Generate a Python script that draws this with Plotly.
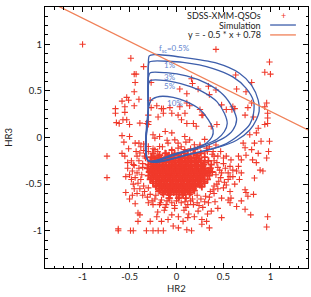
import plotly.graph_objects as go

# ---------------- data ----------------
qso_upper_left = [(-1.0, 1.0), (-0.486, 0.85), (-0.35, 0.76), (-0.45, 0.68), (-0.43, 0.68), (-0.44, 0.59),
                  (-0.45, 0.49), (-0.53, 0.43), (-0.58, 0.39), (-0.51, 0.40), (-0.40, 0.41), (-0.45, 0.34),
                  (-0.65, 0.31), (-0.55, 0.33), (-0.27, 0.59), (-0.16, 0.31)]
qso_mid_left = [(-0.65, 0.26), (-0.55, 0.27), (-0.64, 0.16), (-0.61, 0.15), (-0.57, 0.19), (-0.53, 0.19),
                (-0.50, 0.14), (-0.58, 0.02), (-0.56, -0.05), (-0.51, -0.12), (-0.58, -0.17), (-0.74, -0.20),
                (-0.52, -0.27), (-0.46, -0.29), (-0.47, -0.36), (-0.44, -0.06), (-0.40, -0.06), (-0.35, -0.07),
                (-0.50, 0.01), (-0.32, 0.15), (-0.30, 0.24)]
qso_lower_left = [(-0.74, -0.43), (-0.54, -0.42), (-0.46, -0.50), (-0.54, -0.59), (-0.50, -0.66), (-0.62, -0.98),
                  (-0.62, -1.0), (-0.49, -1.0), (-0.46, -1.0), (-0.41, -0.81), (-0.41, -0.90), (-0.44, -0.71)]
qso_upper_right = [(0.42, 0.945), (0.99, 0.81), (0.94, 0.70), (1.0, 0.68), (0.63, 0.67), (0.80, 0.59),
                   (0.16, 0.63), (0.17, 0.58), (0.34, 0.55), (0.035, 0.52), (0.23, 0.52), (0.42, 0.51),
                   (0.74, 0.49), (0.11, 0.47), (0.35, 0.46), (0.11, 0.37), (0.14, 0.34), (0.53, 0.30),
                   (0.59, 0.30), (0.80, 0.37), (0.94, 0.33), (0.96, 0.37), (0.76, 0.32), (0.64, 0.52)]
qso_middle = [(-0.39, 0.154), (-0.30, 0.17), (-0.30, 0.14), (-0.196, 0.22), (-0.14, 0.26), (-0.05, 0.26),
              (0.017, 0.24), (0.053, 0.19), (0.11, 0.15), (0.18, 0.15), (0.21, 0.12), (0.27, 0.24),
              (0.37, 0.12), (0.43, 0.14), (-0.25, 0.03), (-0.23, -0.007), (-0.18, 0.01), (-0.12, 0.065),
              (-0.05, 0.05), (-0.018, -0.025), (0.017, -0.06), (0.088, 0.01), (0.14, -0.025), (0.19, -0.078),
              (0.25, -0.096), (0.32, -0.114), (-0.30, -0.096), (-0.23, -0.13), (-0.18, -0.096), (-0.09, -0.06),
              (-0.05, -0.13), (0.017, -0.114), (0.088, -0.13), (0.12, -0.185), (0.19, -0.167), (0.30, -0.167),
              (0.39, -0.15), (0.44, -0.20), (-0.39, -0.167), (-0.34, -0.20), (-0.23, -0.20), (-0.16, -0.22),
              (-0.11, -0.167), (-0.28, 0.40), (-0.27, 0.32), (-0.21, 0.34), (-0.14, 0.31), (-0.07, 0.32),
              (0.035, 0.33), (0.09, 0.26), (0.25, 0.30), (0.28, 0.24), (0.48, 0.35), (0.60, 0.33), (0.62, 0.31)]
qso_mid_right = [(0.73, 0.24), (0.82, 0.22), (0.97, 0.26), (0.97, 0.21), (0.97, 0.15), (0.94, 0.14),
                 (0.87, 0.10), (0.78, 0.03), (0.85, 0.05), (0.90, -0.04), (0.99, -0.04), (0.71, -0.06),
                 (0.73, -0.11), (0.83, -0.06), (0.80, -0.13), (0.87, -0.17), (0.74, -0.19), (0.66, -0.20),
                 (0.58, -0.24), (0.69, -0.24), (0.81, -0.24), (0.85, -0.27), (0.57, -0.31), (0.66, -0.31),
                 (0.64, -0.36), (0.69, -0.38), (0.55, -0.38), (0.89, -0.35), (0.92, -0.36), (0.96, -0.22),
                 (0.98, -0.15)]
qso_lower_right = [(0.57, -0.42), (0.60, -0.42), (0.67, -0.45), (0.83, -0.435), (0.53, -0.51), (0.57, -0.58),
                   (0.55, -0.67), (0.58, -0.65), (0.57, -0.70), (0.73, -0.56), (0.74, -0.59), (0.76, -0.63),
                   (0.82, -0.61), (0.69, -0.68), (0.64, -0.74), (0.73, -0.77), (0.79, -0.83), (0.97, -0.85),
                   (0.96, -0.96)]
qso_bottom = [(-0.41, -0.49), (-0.30, -0.54), (-0.28, -0.61), (-0.195, -0.58), (-0.16, -0.67), (-0.11, -0.72),
              (-0.07, -0.65), (-0.02, -0.76), (-0.39, -0.83), (-0.28, -0.90), (-0.21, -0.85), (-0.16, -0.90),
              (-0.09, -0.88), (-0.05, -0.83), (0.02, -0.85), (0.07, -0.90), (0.12, -0.86), (0.19, -0.85),
              (0.23, -0.79), (0.27, -0.88), (0.32, -0.90), (0.37, -0.79), (0.41, -0.69), (0.44, -0.76),
              (0.48, -0.65), (-0.32, -1.0), (-0.25, -1.0), (-0.195, -1.0), (-0.14, -1.0), (-0.035, -0.95),
              (0.02, -0.97), (0.11, -0.99), (0.16, -1.0), (0.27, -0.93), (0.35, -0.97), (0.48, -0.86),
              (0.50, -0.54), (-0.25, -0.72), (-0.13, -0.78), (0.0, -0.68), (0.08, -0.78), (0.15, -0.68),
              (0.28, -0.75), (0.33, -0.82), (0.22, -0.62), (0.40, -0.60), (0.44, -0.55), (-0.20, -0.80),
              (0.13, -0.82)]
qso_fringe = [(-0.40, -0.25), (-0.36, -0.32), (-0.42, -0.38), (-0.38, -0.45), (-0.35, -0.52), (-0.45, -0.30),
              (-0.33, -0.22), (-0.37, -0.40), (-0.34, -0.58), (-0.31, -0.64), (-0.26, -0.68), (-0.22, -0.62),
              (-0.45, -0.55), (-0.50, -0.40), (-0.52, -0.33), (-0.48, -0.25), (-0.43, -0.15), (-0.38, -0.10),
              (-0.55, -0.20), (-0.47, -0.62), (0.40, -0.25), (0.44, -0.32), (0.42, -0.40), (0.45, -0.47),
              (0.40, -0.52), (0.36, -0.58), (0.31, -0.63), (0.26, -0.66), (0.22, -0.70), (0.48, -0.38),
              (0.50, -0.28), (0.53, -0.20), (0.47, -0.15), (0.38, -0.18), (0.55, -0.45), (0.34, -0.70),
              (0.18, -0.72), (0.10, -0.75), (0.05, -0.70), (-0.05, -0.70), (-0.12, -0.75), (-0.18, -0.72),
              (0.60, -0.35), (0.62, -0.50), (-0.25, -0.12), (-0.15, -0.10), (-0.05, -0.14), (0.05, -0.10),
              (0.15, -0.12), (0.25, -0.08), (0.35, -0.10), (-0.30, -0.15), (0.10, -0.05), (-0.10, -0.03),
              (0.30, -0.02), (0.42, -0.08),
              (-0.42, -0.20), (-0.36, -0.28), (-0.40, -0.33), (-0.44, -0.43), (-0.39, -0.55), (-0.36, -0.62),
              (-0.30, -0.70), (-0.23, -0.66), (-0.17, -0.70), (-0.10, -0.68), (0.03, -0.64), (0.09, -0.69),
              (0.17, -0.66), (0.24, -0.73), (0.30, -0.69), (0.35, -0.64), (0.39, -0.56), (0.43, -0.50),
              (0.47, -0.43), (0.46, -0.35), (0.43, -0.27), (0.40, -0.20), (0.33, -0.15), (0.20, -0.13),
              (-0.20, -0.15), (-0.35, -0.14), (0.50, -0.22), (0.52, -0.33), (0.51, -0.48), (-0.48, -0.45),
              (-0.42, -0.60), (0.12, -0.72), (-0.02, -0.73), (0.06, -0.62), (-0.08, -0.62)]
# dense core: rows of HR3 with the HR2 values found along them
core_rows_hr3 = [-0.17, -0.21, -0.25, -0.29, -0.33, -0.37, -0.41, -0.45, -0.49, -0.53, -0.57, -0.61, -0.65]
core_rows_hr2 = [
    [-0.25, -0.12, -0.02, 0.08, 0.18, 0.26],
    [-0.27, -0.19, -0.10, -0.03, 0.05, 0.13, 0.21, 0.30],
    [-0.28, -0.22, -0.15, -0.08, -0.01, 0.06, 0.12, 0.19, 0.26, 0.34],
    [-0.30, -0.24, -0.18, -0.11, -0.05, 0.02, 0.08, 0.15, 0.22, 0.29, 0.37],
    [-0.31, -0.25, -0.19, -0.13, -0.07, -0.01, 0.05, 0.11, 0.17, 0.23, 0.30, 0.36],
    [-0.29, -0.23, -0.17, -0.11, -0.05, 0.01, 0.07, 0.13, 0.19, 0.25, 0.31, 0.38],
    [-0.30, -0.24, -0.18, -0.12, -0.06, 0.00, 0.06, 0.12, 0.18, 0.24, 0.30, 0.35],
    [-0.28, -0.22, -0.16, -0.10, -0.04, 0.02, 0.08, 0.14, 0.20, 0.26, 0.33],
    [-0.25, -0.19, -0.13, -0.07, -0.01, 0.05, 0.11, 0.17, 0.23, 0.30],
    [-0.22, -0.16, -0.10, -0.04, 0.02, 0.08, 0.14, 0.20, 0.27],
    [-0.18, -0.12, -0.06, 0.00, 0.06, 0.12, 0.19],
    [-0.14, -0.07, 0.00, 0.07, 0.14],
    [-0.08, 0.02, 0.10],
]
core_offset_rows_hr3 = [-0.19, -0.23, -0.27, -0.31, -0.35, -0.39, -0.43, -0.47, -0.51, -0.55, -0.59]
core_offset_rows_hr2 = [
    [-0.18, -0.08, 0.02, 0.12, 0.22],
    [-0.23, -0.13, -0.05, 0.02, 0.09, 0.16, 0.24],
    [-0.25, -0.18, -0.11, -0.04, 0.03, 0.10, 0.16, 0.23, 0.30],
    [-0.27, -0.21, -0.15, -0.08, -0.02, 0.04, 0.10, 0.16, 0.22, 0.28],
    [-0.27, -0.20, -0.14, -0.08, -0.02, 0.04, 0.10, 0.16, 0.22, 0.28, 0.34],
    [-0.26, -0.20, -0.14, -0.08, -0.02, 0.04, 0.10, 0.16, 0.22, 0.28, 0.33],
    [-0.27, -0.21, -0.15, -0.09, -0.03, 0.03, 0.09, 0.15, 0.21, 0.27],
    [-0.25, -0.19, -0.13, -0.07, -0.01, 0.05, 0.11, 0.17, 0.23, 0.29],
    [-0.22, -0.16, -0.10, -0.04, 0.02, 0.08, 0.14, 0.20, 0.25],
    [-0.18, -0.12, -0.06, 0.00, 0.06, 0.12, 0.18],
    [-0.15, -0.09, -0.03, 0.03, 0.09, 0.15],
]
core_inner_rows_hr3 = [-0.22, -0.26, -0.30, -0.34, -0.38, -0.42, -0.46, -0.50, -0.54, -0.58]
core_inner_rows_hr2 = [
    [-0.16, -0.06, 0.04, 0.15],
    [-0.20, -0.12, -0.04, 0.04, 0.12, 0.20],
    [-0.22, -0.14, -0.07, 0.00, 0.06, 0.13, 0.20, 0.27],
    [-0.22, -0.16, -0.10, -0.04, 0.02, 0.08, 0.14, 0.20, 0.26],
    [-0.21, -0.14, -0.08, -0.02, 0.04, 0.10, 0.16, 0.22, 0.28],
    [-0.21, -0.15, -0.09, -0.03, 0.03, 0.09, 0.15, 0.21, 0.27],
    [-0.19, -0.13, -0.07, -0.01, 0.05, 0.11, 0.17, 0.23],
    [-0.17, -0.11, -0.05, 0.01, 0.07, 0.13, 0.19],
    [-0.13, -0.07, -0.01, 0.05, 0.11, 0.17],
    [-0.09, -0.03, 0.03, 0.09],
]

# simulated tracks (HR2, HR3) for different scattering fractions
sim_labels = ["f<sub>sc</sub>=0.5%", "1%", "3%", "5%", "10%"]
sim_label_hr2 = [-0.21, -0.15, -0.15, -0.15, -0.12]
sim_label_hr3 = [0.96, 0.78, 0.65, 0.55, 0.37]
sim_hr2 = [
    [-0.30, -0.30, -0.30, -0.29, -0.24, 0.07, 0.42, 0.67, 0.80, 0.87, 0.88, 0.85, 0.78, 0.64, 0.43, 0.11, -0.30],
    [-0.30, -0.30, -0.30, -0.29, -0.24, 0.07, 0.39, 0.60, 0.74, 0.82, 0.82, 0.78, 0.67, 0.50, 0.18, -0.30],
    [-0.30, -0.30, -0.30, -0.28, -0.11, 0.106, 0.32, 0.50, 0.60, 0.64, 0.60, 0.50, 0.32, 0.035, -0.30],
    [-0.30, -0.30, -0.30, -0.28, -0.11, 0.106, 0.28, 0.43, 0.51, 0.54, 0.51, 0.43, 0.25, 0.0, -0.30],
    [-0.30, -0.30, -0.27, -0.18, -0.035, 0.106, 0.25, 0.34, 0.39, 0.38, 0.32, 0.18, -0.035, -0.30],
]
sim_hr3 = [
    [-0.25, 0.30, 0.80, 0.875, 0.89, 0.86, 0.80, 0.69, 0.56, 0.40, 0.28, 0.19, 0.08, -0.03, -0.11, -0.185, -0.25],
    [-0.25, 0.30, 0.76, 0.81, 0.82, 0.805, 0.74, 0.65, 0.53, 0.39, 0.26, 0.14, 0.03, -0.08, -0.17, -0.25],
    [-0.25, 0.30, 0.64, 0.695, 0.695, 0.66, 0.58, 0.456, 0.31, 0.19, 0.08, -0.007, -0.086, -0.17, -0.25],
    [-0.25, 0.30, 0.56, 0.61, 0.61, 0.56, 0.49, 0.385, 0.26, 0.15, 0.064, -0.018, -0.096, -0.17, -0.25],
    [-0.25, 0.30, 0.40, 0.44, 0.43, 0.385, 0.30, 0.19, 0.08, 0.01, -0.06, -0.125, -0.18, -0.25],
]

line_slope = -0.5
line_intercept = 0.78
axis_range = [-1.4, 1.4]
tick_vals = [-1, -0.5, 0, 0.5, 1]
tick_text = ["-1", "-0.5", "0", "0.5", "1"]

# ---------------- build ----------------
RED = "#f0392a"
BLUE = "#3d5eab"
LBLUE = "#6486cf"
ORANGE = "#f08058"
FONT = "Lato"

pairs = (qso_upper_left + qso_mid_left + qso_lower_left + qso_upper_right + qso_middle +
         qso_mid_right + qso_lower_right + qso_bottom + qso_fringe)
hr2 = [p[0] for p in pairs]
hr3 = [p[1] for p in pairs]
core_hr2, core_hr3 = [], []
for rows_y, rows_x in ((core_rows_hr3, core_rows_hr2), (core_offset_rows_hr3, core_offset_rows_hr2),
                       (core_inner_rows_hr3, core_inner_rows_hr2)):
    for yv, xs in zip(rows_y, rows_x):
        core_hr2 += xs
        core_hr3 += [yv] * len(xs)

fig = go.Figure()
fig.add_trace(go.Scatter(x=core_hr2, y=core_hr3, mode="markers", name="SDSS-XMM-QSOs core",
                         marker=dict(symbol="cross-thin", size=5, color=RED, line=dict(width=1.8, color=RED)),
                         showlegend=False))
fig.add_trace(go.Scatter(x=hr2, y=hr3, mode="markers", name="SDSS-XMM-QSOs",
                         marker=dict(symbol="cross-thin", size=4.5, color=RED,
                                     line=dict(width=1.1, color=RED)),
                         showlegend=False))
for xs, ys in zip(sim_hr2, sim_hr3):
    fig.add_trace(go.Scatter(x=xs, y=ys, mode="lines", line=dict(color=BLUE, width=1.3, shape="spline", smoothing=0.8),
                             showlegend=False))
lx = axis_range
ly = [line_slope * v + line_intercept for v in lx]
fig.add_trace(go.Scatter(x=lx, y=ly, mode="lines", line=dict(color=ORANGE, width=1.3), showlegend=False))

for t, x, y in zip(sim_labels, sim_label_hr2, sim_label_hr3):
    fig.add_annotation(x=x, y=y, text=t, showarrow=False, xanchor="left", yanchor="middle",
                       font=dict(family=FONT, size=8, color=LBLUE))

# legend (text on left, symbol on right)
leg_text = ["SDSS-XMM-QSOs", "Simulation", "y = - 0.5 * x + 0.78"]
leg_y = [0.969, 0.931, 0.893]
for t, y in zip(leg_text, leg_y):
    fig.add_annotation(xref="paper", yref="paper", x=0.829, y=y, text=t, showarrow=False,
                       xanchor="right", yanchor="middle", font=dict(family=FONT, size=9, color="#222"))
fig.add_annotation(xref="paper", yref="paper", x=0.905, y=leg_y[0], text="+", showarrow=False,
                   xanchor="center", yanchor="middle", font=dict(family=FONT, size=9, color=RED))
fig.add_shape(type="line", xref="paper", yref="paper", x0=0.856, x1=0.954, y0=leg_y[1], y1=leg_y[1],
              line=dict(color=BLUE, width=1.3))
fig.add_shape(type="line", xref="paper", yref="paper", x0=0.856, x1=0.954, y0=leg_y[2], y1=leg_y[2],
              line=dict(color=ORANGE, width=1.3))

# axis titles
fig.add_annotation(xref="paper", yref="paper", x=0.5, y=-0.08, text="HR2", showarrow=False,
                   xanchor="center", yanchor="middle", font=dict(family=FONT, size=9.5, color="#222"))
fig.add_annotation(xref="paper", yref="paper", x=-0.14, y=0.5, text="HR3", showarrow=False, textangle=-90,
                   xanchor="center", yanchor="middle", font=dict(family=FONT, size=9.5, color="#222"))

axis_common = dict(range=axis_range, tickvals=tick_vals, ticktext=tick_text, ticks="inside", ticklen=5,
                   tickcolor="black", showline=True, linecolor="black", linewidth=1, mirror="allticks",
                   showgrid=False, zeroline=False, tickfont=dict(family=FONT, size=9.5, color="#222"),
                   minor=dict(dtick=0.1, tick0=0, ticks="inside", ticklen=2.5, tickcolor="black", showgrid=False))
fig.update_xaxes(**axis_common)
fig.update_yaxes(**axis_common)
fig.update_layout(width=311, height=297, margin=dict(l=45, r=3, t=7, b=29),
                  paper_bgcolor="white", plot_bgcolor="white", showlegend=False)
fig.write_html("out.html")
